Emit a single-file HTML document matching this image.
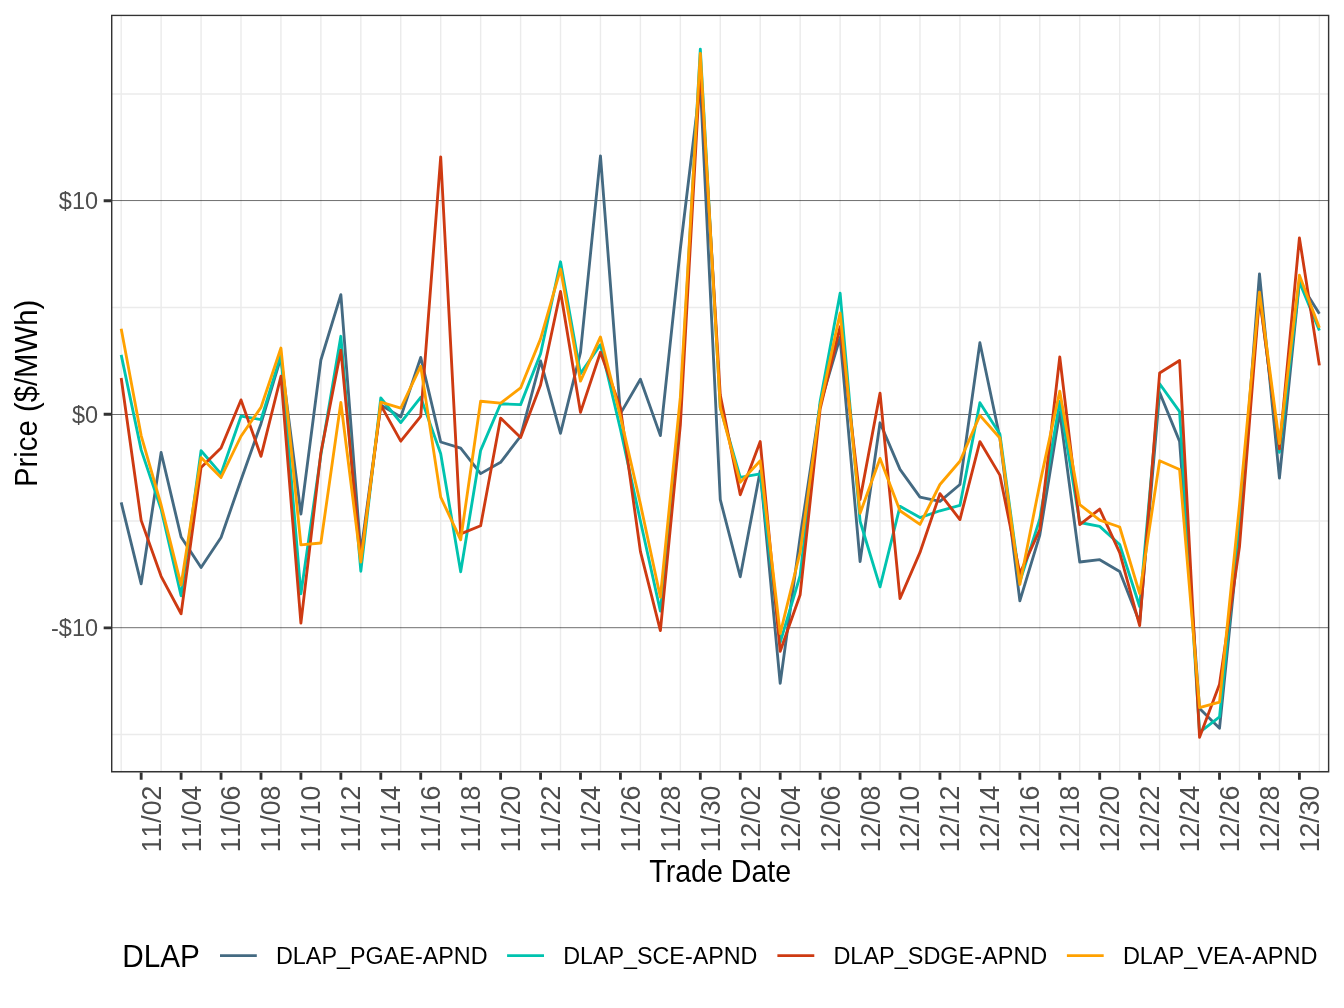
<!DOCTYPE html>
<html lang="en"><head><meta charset="utf-8"><title>DLAP Price by Trade Date</title>
<style>
html,body{margin:0;padding:0;background:#fff;}
body{width:1344px;height:1008px;overflow:hidden;}
svg{display:block;}
text{font-family:"Liberation Sans",Arial,Helvetica,sans-serif;}
.xt,.yt{font-kerning:none;}
.yt{font-size:23.47px;fill:#4d4d4d;text-anchor:end;}
.xt{font-size:27.7px;fill:#4d4d4d;text-anchor:end;}
.ttl{font-size:32px;fill:#000;}
.lg{font-size:23.47px;fill:#000;}
.ser{fill:none;stroke-width:2.85;stroke-linejoin:round;stroke-linecap:butt;}
</style></head><body>
<svg width="1344" height="1008" viewBox="0 0 1344 1008">
<rect width="1344" height="1008" fill="#fff"/>
<defs><clipPath id="pc"><rect x="111.00" y="14.67" width="1218.33" height="757.73"/></clipPath></defs>
<g clip-path="url(#pc)">
<path d="M111.00,93.93H1329.33M111.00,307.48H1329.33M111.00,521.02H1329.33M111.00,734.58H1329.33" stroke="#ebebeb" stroke-width="1.42" fill="none"/>
<path d="M121.19,14.67V772.40M161.12,14.67V772.40M201.06,14.67V772.40M241.00,14.67V772.40M280.94,14.67V772.40M320.88,14.67V772.40M360.82,14.67V772.40M400.76,14.67V772.40M440.70,14.67V772.40M480.64,14.67V772.40M520.59,14.67V772.40M560.52,14.67V772.40M600.46,14.67V772.40M640.40,14.67V772.40M680.35,14.67V772.40M720.28,14.67V772.40M760.22,14.67V772.40M800.16,14.67V772.40M840.11,14.67V772.40M880.04,14.67V772.40M919.98,14.67V772.40M959.92,14.67V772.40M999.87,14.67V772.40M1039.80,14.67V772.40M1079.74,14.67V772.40M1119.68,14.67V772.40M1159.62,14.67V772.40M1199.56,14.67V772.40M1239.50,14.67V772.40M1279.44,14.67V772.40M1319.38,14.67V772.40" stroke="#ebebeb" stroke-width="1.42" fill="none"/>
<path d="M111.00,200.56H1329.33M111.00,414.50H1329.33M111.00,627.70H1329.33" stroke="#000" stroke-width="0.57" fill="none"/>
<path class="ser" stroke="#446A82" d="M121.19,502.45 L141.16,583.81 L161.12,452.48 L181.09,537.04 L201.06,567.58 L221.03,537.47 L241.00,480.02 L260.98,423.65 L280.94,357.45 L300.91,514.19 L320.88,360.01 L340.86,294.66 L360.82,553.06 L380.80,405.07 L400.76,417.03 L420.73,357.45 L440.70,442.01 L460.68,448.20 L480.64,473.62 L500.61,462.30 L520.59,436.25 L540.56,360.86 L560.52,433.26 L580.49,352.32 L600.46,155.85 L620.43,413.61 L640.40,379.23 L660.38,435.61 L680.35,248.75 L700.32,83.25 L720.28,499.67 L740.25,576.76 L760.22,470.84 L780.19,683.32 L800.16,537.04 L820.13,404.64 L840.11,337.37 L860.08,561.60 L880.04,422.79 L900.01,469.35 L919.98,497.11 L939.95,501.38 L959.92,484.51 L979.89,342.71 L999.87,437.74 L1019.84,600.89 L1039.80,535.12 L1059.77,412.11 L1079.74,562.03 L1099.71,559.68 L1119.68,571.42 L1139.65,622.46 L1159.62,392.47 L1179.59,441.37 L1199.56,708.52 L1219.53,728.17 L1239.50,531.70 L1259.47,273.95 L1279.44,478.10 L1299.41,281.85 L1319.38,313.67"/>
<path class="ser" stroke="#00C3AF" d="M121.19,354.88 L141.16,449.91 L161.12,509.28 L181.09,595.77 L201.06,450.77 L221.03,473.83 L241.00,416.17 L260.98,419.59 L280.94,354.88 L300.91,593.85 L320.88,454.82 L340.86,336.30 L360.82,571.21 L380.80,398.02 L400.76,422.58 L420.73,397.38 L440.70,453.76 L460.68,571.85 L480.64,450.34 L500.61,403.79 L520.59,404.64 L540.56,353.82 L560.52,261.78 L580.49,373.68 L600.46,344.63 L620.43,429.20 L640.40,521.02 L660.38,611.14 L680.35,407.84 L700.32,49.08 L720.28,407.84 L740.25,477.46 L760.22,473.83 L780.19,642.32 L800.16,575.48 L820.13,401.44 L840.11,293.17 L860.08,521.24 L880.04,586.80 L900.01,506.29 L919.98,517.61 L939.95,510.77 L959.92,505.44 L979.89,402.72 L999.87,433.90 L1019.84,581.89 L1039.80,518.89 L1059.77,401.44 L1079.74,522.52 L1099.71,526.36 L1119.68,544.52 L1139.65,606.44 L1159.62,383.71 L1179.59,411.69 L1199.56,732.44 L1219.53,716.85 L1239.50,521.02 L1259.47,294.66 L1279.44,452.26 L1299.41,281.85 L1319.38,330.54"/>
<path class="ser" stroke="#CE3A12" d="M121.19,377.95 L141.16,520.38 L161.12,576.33 L181.09,613.71 L201.06,467.42 L221.03,447.99 L241.00,399.94 L260.98,456.32 L280.94,376.24 L300.91,623.10 L320.88,452.69 L340.86,350.19 L360.82,559.46 L380.80,405.07 L400.76,441.16 L420.73,416.39 L440.70,156.92 L460.68,533.84 L480.64,525.72 L500.61,418.09 L520.59,437.53 L540.56,384.99 L560.52,291.46 L580.49,412.33 L600.46,352.32 L620.43,407.84 L640.40,551.35 L660.38,630.58 L680.35,424.93 L700.32,66.16 L720.28,395.03 L740.25,494.76 L760.22,441.58 L780.19,651.29 L800.16,594.70 L820.13,408.91 L840.11,326.69 L860.08,499.46 L880.04,393.11 L900.01,598.54 L919.98,552.42 L939.95,493.69 L959.92,519.53 L979.89,441.58 L999.87,475.11 L1019.84,573.56 L1039.80,529.57 L1059.77,357.02 L1079.74,524.66 L1099.71,509.07 L1119.68,552.63 L1139.65,625.66 L1159.62,373.03 L1179.59,360.44 L1199.56,737.35 L1219.53,684.18 L1239.50,546.65 L1259.47,296.80 L1279.44,448.85 L1299.41,237.86 L1319.38,365.35"/>
<path class="ser" stroke="#FFA100" d="M121.19,328.83 L141.16,435.61 L161.12,505.01 L181.09,585.09 L201.06,457.60 L221.03,477.46 L241.00,436.25 L260.98,407.42 L280.94,348.05 L300.91,544.94 L320.88,543.02 L340.86,402.50 L360.82,562.03 L380.80,402.08 L400.76,408.06 L420.73,366.20 L440.70,497.11 L460.68,539.82 L480.64,401.22 L500.61,403.15 L520.59,387.98 L540.56,338.87 L560.52,269.04 L580.49,381.15 L600.46,336.94 L620.43,416.60 L640.40,503.94 L660.38,597.26 L680.35,397.17 L700.32,53.35 L720.28,407.42 L740.25,482.37 L760.22,460.80 L780.19,633.57 L800.16,551.99 L820.13,406.14 L840.11,313.03 L860.08,513.34 L880.04,458.45 L900.01,510.77 L919.98,524.44 L939.95,484.51 L959.92,461.23 L979.89,415.32 L999.87,437.95 L1019.84,584.45 L1039.80,483.87 L1059.77,391.19 L1079.74,504.58 L1099.71,520.17 L1119.68,527.00 L1139.65,593.63 L1159.62,460.80 L1179.59,469.56 L1199.56,707.67 L1219.53,702.12 L1239.50,505.01 L1259.47,292.10 L1279.44,443.51 L1299.41,275.23 L1319.38,327.76"/>
<rect x="111.00" y="14.67" width="1218.33" height="757.73" fill="none" stroke="#333" stroke-width="2.85"/>
</g>
<path d="M103.67,200.70H111.00M103.67,414.25H111.00M103.67,627.80H111.00M141.16,772.40V779.73M181.09,772.40V779.73M221.03,772.40V779.73M260.98,772.40V779.73M300.91,772.40V779.73M340.86,772.40V779.73M380.80,772.40V779.73M420.73,772.40V779.73M460.68,772.40V779.73M500.61,772.40V779.73M540.56,772.40V779.73M580.49,772.40V779.73M620.43,772.40V779.73M660.38,772.40V779.73M700.32,772.40V779.73M740.25,772.40V779.73M780.19,772.40V779.73M820.13,772.40V779.73M860.08,772.40V779.73M900.01,772.40V779.73M939.95,772.40V779.73M979.89,772.40V779.73M1019.84,772.40V779.73M1059.77,772.40V779.73M1099.71,772.40V779.73M1139.65,772.40V779.73M1179.59,772.40V779.73M1219.53,772.40V779.73M1259.47,772.40V779.73M1299.41,772.40V779.73" stroke="#333" stroke-width="2.85" fill="none"/>
<text class="yt" x="98" y="209.10">$10</text>
<text class="yt" x="98" y="422.65">$0</text>
<text class="yt" x="98" y="636.20">-$10</text>
<text class="xt" transform="translate(160.60,785.6) rotate(-90)" x="0" y="0" textLength="66.7" lengthAdjust="spacingAndGlyphs">11/02</text>
<text class="xt" transform="translate(200.54,785.6) rotate(-90)" x="0" y="0" textLength="66.7" lengthAdjust="spacingAndGlyphs">11/04</text>
<text class="xt" transform="translate(240.48,785.6) rotate(-90)" x="0" y="0" textLength="66.7" lengthAdjust="spacingAndGlyphs">11/06</text>
<text class="xt" transform="translate(280.43,785.6) rotate(-90)" x="0" y="0" textLength="66.7" lengthAdjust="spacingAndGlyphs">11/08</text>
<text class="xt" transform="translate(320.36,785.6) rotate(-90)" x="0" y="0" textLength="66.7" lengthAdjust="spacingAndGlyphs">11/10</text>
<text class="xt" transform="translate(360.31,785.6) rotate(-90)" x="0" y="0" textLength="66.7" lengthAdjust="spacingAndGlyphs">11/12</text>
<text class="xt" transform="translate(400.25,785.6) rotate(-90)" x="0" y="0" textLength="66.7" lengthAdjust="spacingAndGlyphs">11/14</text>
<text class="xt" transform="translate(440.18,785.6) rotate(-90)" x="0" y="0" textLength="66.7" lengthAdjust="spacingAndGlyphs">11/16</text>
<text class="xt" transform="translate(480.12,785.6) rotate(-90)" x="0" y="0" textLength="66.7" lengthAdjust="spacingAndGlyphs">11/18</text>
<text class="xt" transform="translate(520.06,785.6) rotate(-90)" x="0" y="0" textLength="66.7" lengthAdjust="spacingAndGlyphs">11/20</text>
<text class="xt" transform="translate(560.01,785.6) rotate(-90)" x="0" y="0" textLength="66.7" lengthAdjust="spacingAndGlyphs">11/22</text>
<text class="xt" transform="translate(599.94,785.6) rotate(-90)" x="0" y="0" textLength="66.7" lengthAdjust="spacingAndGlyphs">11/24</text>
<text class="xt" transform="translate(639.88,785.6) rotate(-90)" x="0" y="0" textLength="66.7" lengthAdjust="spacingAndGlyphs">11/26</text>
<text class="xt" transform="translate(679.83,785.6) rotate(-90)" x="0" y="0" textLength="66.7" lengthAdjust="spacingAndGlyphs">11/28</text>
<text class="xt" transform="translate(719.77,785.6) rotate(-90)" x="0" y="0" textLength="66.7" lengthAdjust="spacingAndGlyphs">11/30</text>
<text class="xt" transform="translate(759.70,785.6) rotate(-90)" x="0" y="0" textLength="66.7" lengthAdjust="spacingAndGlyphs">12/02</text>
<text class="xt" transform="translate(799.64,785.6) rotate(-90)" x="0" y="0" textLength="66.7" lengthAdjust="spacingAndGlyphs">12/04</text>
<text class="xt" transform="translate(839.59,785.6) rotate(-90)" x="0" y="0" textLength="66.7" lengthAdjust="spacingAndGlyphs">12/06</text>
<text class="xt" transform="translate(879.53,785.6) rotate(-90)" x="0" y="0" textLength="66.7" lengthAdjust="spacingAndGlyphs">12/08</text>
<text class="xt" transform="translate(919.46,785.6) rotate(-90)" x="0" y="0" textLength="66.7" lengthAdjust="spacingAndGlyphs">12/10</text>
<text class="xt" transform="translate(959.40,785.6) rotate(-90)" x="0" y="0" textLength="66.7" lengthAdjust="spacingAndGlyphs">12/12</text>
<text class="xt" transform="translate(999.35,785.6) rotate(-90)" x="0" y="0" textLength="66.7" lengthAdjust="spacingAndGlyphs">12/14</text>
<text class="xt" transform="translate(1039.29,785.6) rotate(-90)" x="0" y="0" textLength="66.7" lengthAdjust="spacingAndGlyphs">12/16</text>
<text class="xt" transform="translate(1079.22,785.6) rotate(-90)" x="0" y="0" textLength="66.7" lengthAdjust="spacingAndGlyphs">12/18</text>
<text class="xt" transform="translate(1119.16,785.6) rotate(-90)" x="0" y="0" textLength="66.7" lengthAdjust="spacingAndGlyphs">12/20</text>
<text class="xt" transform="translate(1159.11,785.6) rotate(-90)" x="0" y="0" textLength="66.7" lengthAdjust="spacingAndGlyphs">12/22</text>
<text class="xt" transform="translate(1199.04,785.6) rotate(-90)" x="0" y="0" textLength="66.7" lengthAdjust="spacingAndGlyphs">12/24</text>
<text class="xt" transform="translate(1238.98,785.6) rotate(-90)" x="0" y="0" textLength="66.7" lengthAdjust="spacingAndGlyphs">12/26</text>
<text class="xt" transform="translate(1278.92,785.6) rotate(-90)" x="0" y="0" textLength="66.7" lengthAdjust="spacingAndGlyphs">12/28</text>
<text class="xt" transform="translate(1318.87,785.6) rotate(-90)" x="0" y="0" textLength="66.7" lengthAdjust="spacingAndGlyphs">12/30</text>
<text class="ttl" text-anchor="middle" x="720.2" y="881.8" textLength="141.8" lengthAdjust="spacingAndGlyphs">Trade Date</text>
<text class="ttl" text-anchor="middle" transform="translate(36.5,393.4) rotate(-90)" textLength="187.4" lengthAdjust="spacingAndGlyphs">Price ($/MWh)</text>
<text class="ttl" x="122.3" y="966.8" textLength="77.6" lengthAdjust="spacingAndGlyphs">DLAP</text>
<path d="M220.00,955.55H256.80" stroke="#446A82" stroke-width="2.85" fill="none"/>
<text class="lg" x="276.00" y="964.4" textLength="211.6" lengthAdjust="spacingAndGlyphs">DLAP_PGAE-APND</text>
<path d="M507.10,955.55H544.00" stroke="#00C3AF" stroke-width="2.85" fill="none"/>
<text class="lg" x="563.15" y="964.4" textLength="194.3" lengthAdjust="spacingAndGlyphs">DLAP_SCE-APND</text>
<path d="M777.40,955.55H814.30" stroke="#CE3A12" stroke-width="2.85" fill="none"/>
<text class="lg" x="833.40" y="964.4" textLength="213.9" lengthAdjust="spacingAndGlyphs">DLAP_SDGE-APND</text>
<path d="M1066.90,955.55H1103.70" stroke="#FFA100" stroke-width="2.85" fill="none"/>
<text class="lg" x="1122.90" y="964.4" textLength="194.5" lengthAdjust="spacingAndGlyphs">DLAP_VEA-APND</text>
</svg></body></html>
